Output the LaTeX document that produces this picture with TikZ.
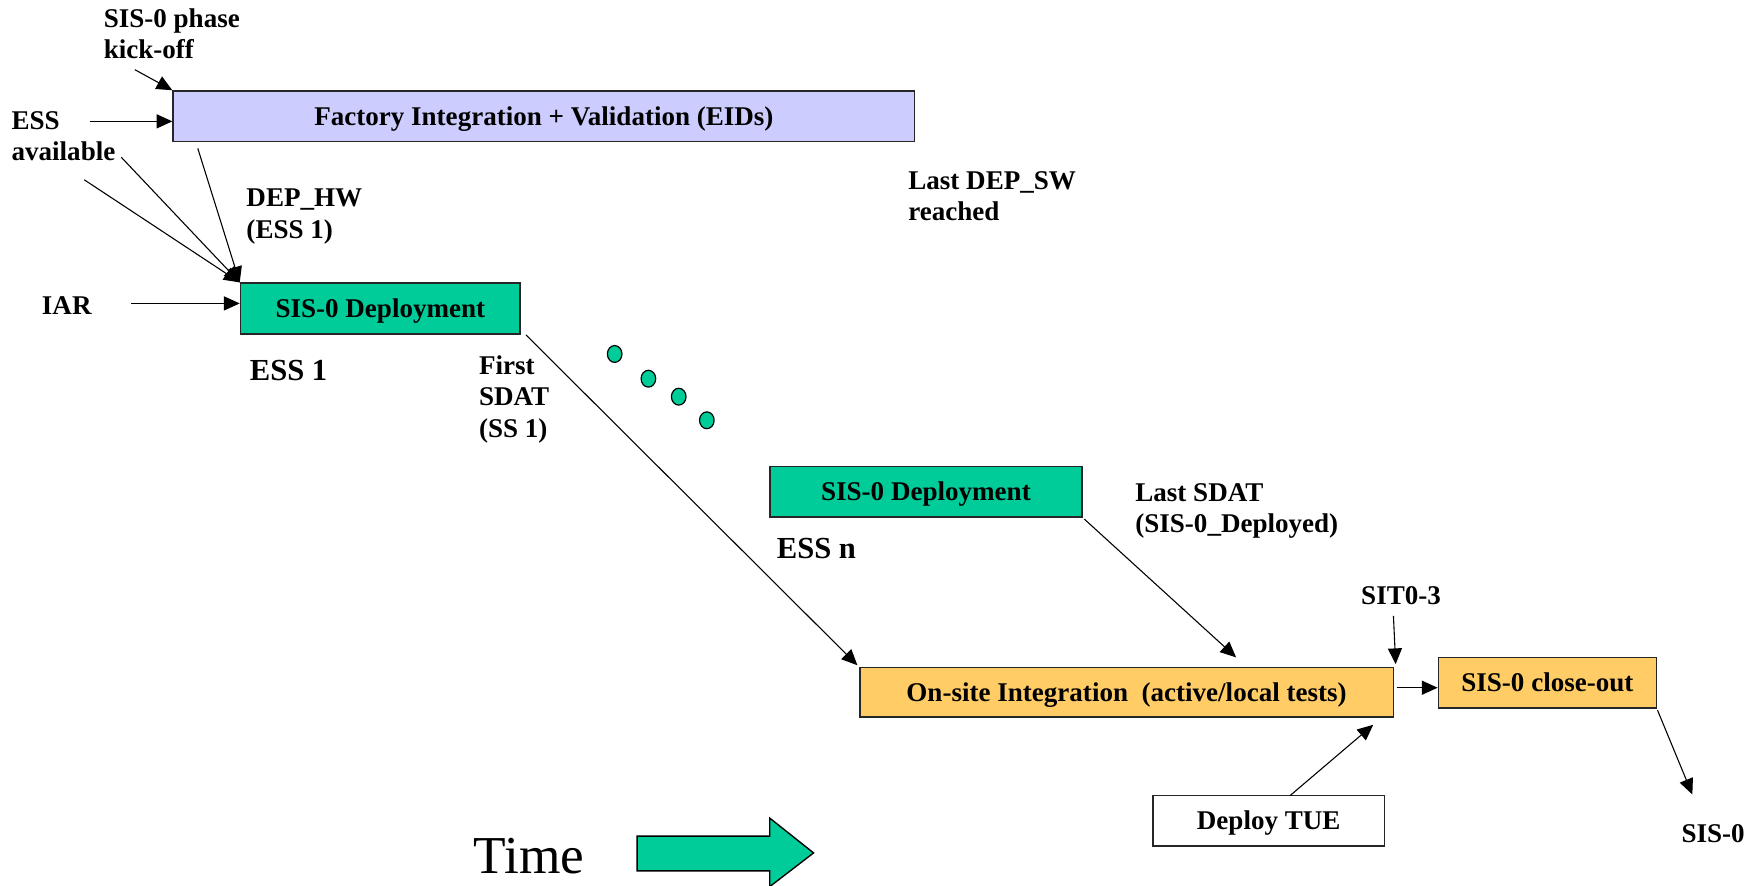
\documentclass[tikz,border=0pt]{standalone}
\usepackage{fontspec}
\setmainfont{Liberation Serif}
\usetikzlibrary{arrows.meta,shapes.geometric}
\definecolor{teal0}{HTML}{00CC99}
\definecolor{lav0}{HTML}{CCCCFF}
\definecolor{ora0}{HTML}{FFCC66}
\begin{document}
\begin{tikzpicture}[x=0.02cm,y=-0.02cm,
  lbl/.style={font=\fontsize{13.7}{15.9}\selectfont\bfseries,inner sep=0pt,align=left},
  big/.style={font=\fontsize{15.5}{18}\selectfont\bfseries,inner sep=0pt},
  box/.style={draw=black!85,line width=0.8pt,minimum height=0.9cm,inner sep=0pt,
    text height=10.3pt,text depth=1.4pt,
    font=\fontsize{13.7}{15.9}\selectfont\bfseries},
  arr/.style={line width=0.55pt,-{Triangle[length=0.28cm,width=0.25cm]}},
  dot/.style={draw,fill=teal0,line width=0.6pt,ellipse,minimum width=0.26cm,minimum height=0.3cm,inner sep=0pt}
]
\useasboundingbox (0,0) rectangle (1568,788);

% process boxes
\node[box,fill=lav0,minimum width=13.2cm] (fac) at (484,103.5) {Factory Integration + Validation (EIDs)};
\node[box,fill=teal0,minimum width=4.98cm] (dep1) at (338.5,274.5) {SIS-0 Deployment};
\node[box,fill=teal0,minimum width=5.56cm] (dep2) at (824,437.5) {SIS-0 Deployment};
\node[box,fill=ora0,minimum width=9.5cm,minimum height=0.88cm] (onsite) at (1002.5,616) {On-site Integration\ \ (active/local tests)};
\node[box,fill=ora0,minimum width=3.88cm] (close) at (1377,607.5) {SIS-0 close-out};
\node[box,fill=white,minimum width=4.12cm] (tue) at (1129,730.5) {Deploy TUE};

% labels
\node[lbl,anchor=north west] (kick) at (92,7) {SIS-0 phase\\kick-off};
\node[lbl,anchor=north west] (essav) at (10,99) {ESS\\available};
\node[lbl,anchor=north west] (dephw) at (219,168) {DEP\_HW\\(ESS 1)};
\node[lbl,anchor=west] (iar) at (37,272) {IAR};
\node[big,anchor=west] (ess1) at (222,330) {ESS 1};
\node[lbl,anchor=north west] (first) at (426,316) {First\\SDAT\\(SS 1)};
\node[lbl,anchor=north west] (lastdep) at (808,152) {Last DEP\_SW\\reached};
\node[big,anchor=west] (essn) at (691,488) {ESS n};
\node[lbl,anchor=north west] (lastsdat) at (1010,430) {Last SDAT\\(SIS-0\_Deployed)};
\node[lbl,anchor=west] (sit) at (1211,530) {SIT0-3};
\node[lbl,anchor=west] (sis0) at (1496,742) {SIS-0};
\node[anchor=west,inner sep=0pt,font=\fontsize{27}{30}\selectfont] (time) at (421,762) {Time};

% continuation dots
\node[dot] (d1) at (547,315) {};
\node[dot] (d2) at (577,337) {};
\node[dot] (d3) at (604,353) {};
\node[dot] (d4) at (629,374) {};

% connector end points
\coordinate (kickS) at (120,62);
\coordinate (essavS) at (80,108);
\coordinate (essavS2) at (108,140);
\coordinate (essavS3) at (75,160);
\coordinate (facS) at (176,132);
\coordinate (iarS) at (117,270);
\coordinate (dep1S) at (468,298);
\coordinate (onE) at (763,592);
\coordinate (dep2S) at (965,462);
\coordinate (onE2) at (1100,585);
\coordinate (sitS) at (1240,548);
\coordinate (sitE) at (1242,591);
\coordinate (onR) at (1243,612);
\coordinate (closeS) at (1475,632);
\coordinate (sis0E) at (1506,707);
\coordinate (tueS) at (1148,708);
\coordinate (tueE) at (1222,645);

\draw[arr] (kickS) -- (fac.north west);
\draw[arr] (essavS) -- (essavS -| fac.west);
\draw[arr] (essavS2) -- (dep1.north west);
\draw[arr] (essavS3) -- (dep1.north west);
\draw[arr] (facS) -- (dep1.north west);
\draw[arr] (iarS) -- (iarS -| dep1.west);
\draw[arr] (dep1S) -- (onE);
\draw[arr] (dep2S) -- (onE2);
\draw[arr] (sitS) -- (sitE);
\draw[arr] (onR) -- (onR -| close.west);
\draw[arr] (closeS) -- (sis0E);
\draw[arr] (tueS) -- (tueE);

% time arrow
\draw[fill=teal0,line width=0.7pt] (567,744) -- (685,744) -- (685,728) -- (724,759)
  -- (685,789) -- (685,775) -- (567,775) -- cycle;
\end{tikzpicture}
\end{document}
